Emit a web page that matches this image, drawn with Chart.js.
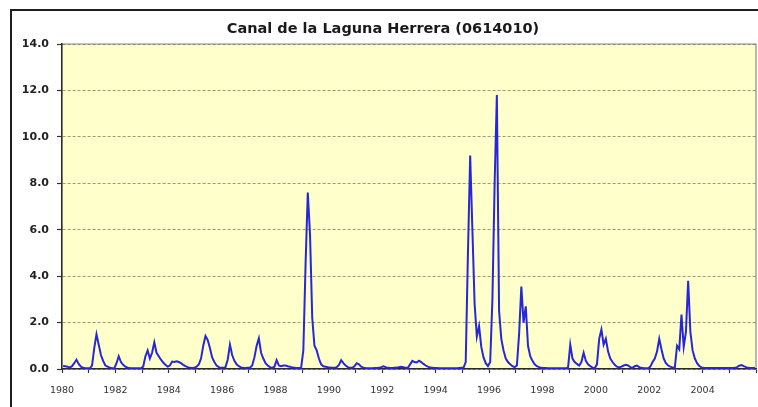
<!DOCTYPE html>
<html>
<head>
<meta charset="utf-8">
<script src="https://cdn.jsdelivr.net/npm/chart.js@4.4.1/dist/chart.umd.min.js"></script>
<style>
  html, body { margin: 0; padding: 0; background: #ffffff; }
  #wrap { width: 758px; height: 407px; position: relative; }
</style>
</head>
<body>
<div id="wrap"><canvas id="c" width="758" height="407"></canvas></div>
<script>
// Station hydrograph: monthly mean flow, Jan 1980 – Dec 2005
const chartTitle = 'Canal de la Laguna Herrera (0614010)';
const firstYear = 1980;
const lastYear = 2006;
const labelYears = [1980, 1982, 1984, 1986, 1988, 1990, 1992, 1994, 1996, 1998, 2000, 2002, 2004];
const yMax = 14;
const yStep = 2;

// one row per year, January … December
const flow = [
  /* 1980 */ 0.13, 0.12, 0.10, 0.06, 0.12, 0.25, 0.40, 0.22, 0.10, 0.05, 0.03, 0.03,
  /* 1981 */ 0.03, 0.15, 0.90, 1.50, 1.05, 0.60, 0.35, 0.15, 0.10, 0.05, 0.03, 0.03,
  /* 1982 */ 0.25, 0.55, 0.30, 0.18, 0.10, 0.06, 0.04, 0.03, 0.03, 0.03, 0.03, 0.03,
  /* 1983 */ 0.10, 0.55, 0.80, 0.45, 0.70, 1.15, 0.70, 0.55, 0.40, 0.28, 0.18, 0.10,
  /* 1984 */ 0.15, 0.32, 0.30, 0.33, 0.30, 0.25, 0.18, 0.12, 0.08, 0.05, 0.04, 0.05,
  /* 1985 */ 0.10, 0.20, 0.45, 1.00, 1.42, 1.25, 0.90, 0.50, 0.30, 0.15, 0.08, 0.05,
  /* 1986 */ 0.05, 0.08, 0.40, 1.05, 0.60, 0.35, 0.20, 0.12, 0.07, 0.05, 0.04, 0.05,
  /* 1987 */ 0.05, 0.15, 0.50, 1.00, 1.32, 0.70, 0.45, 0.25, 0.15, 0.08, 0.05, 0.10,
  /* 1988 */ 0.38, 0.15, 0.12, 0.15, 0.15, 0.12, 0.10, 0.06, 0.05, 0.04, 0.04, 0.05,
  /* 1989 */ 0.80, 4.50, 7.60, 5.80, 2.20, 1.00, 0.80, 0.45, 0.20, 0.12, 0.10, 0.08,
  /* 1990 */ 0.06, 0.05, 0.05, 0.08, 0.18, 0.38, 0.25, 0.15, 0.08, 0.05, 0.05, 0.12,
  /* 1991 */ 0.25, 0.20, 0.10, 0.06, 0.04, 0.03, 0.03, 0.03, 0.04, 0.04, 0.05, 0.08,
  /* 1992 */ 0.12, 0.08, 0.05, 0.04, 0.04, 0.05, 0.06, 0.08, 0.10, 0.08, 0.05, 0.05,
  /* 1993 */ 0.20, 0.35, 0.30, 0.28, 0.36, 0.30, 0.22, 0.15, 0.10, 0.06, 0.05, 0.04,
  /* 1994 */ 0.04, 0.03, 0.03, 0.03, 0.03, 0.03, 0.03, 0.03, 0.03, 0.03, 0.04, 0.05,
  /* 1995 */ 0.05, 0.30, 5.00, 9.20, 6.00, 2.80, 1.40, 1.85, 0.95, 0.50, 0.25, 0.12,
  /* 1996 */ 0.30, 3.00, 8.00, 11.80, 2.50, 1.30, 0.80, 0.45, 0.30, 0.20, 0.12, 0.08,
  /* 1997 */ 0.15, 1.50, 3.55, 2.00, 2.70, 1.00, 0.55, 0.35, 0.20, 0.12, 0.08, 0.05,
  /* 1998 */ 0.04, 0.04, 0.03, 0.03, 0.03, 0.03, 0.03, 0.03, 0.03, 0.03, 0.03, 0.05,
  /* 1999 */ 1.05, 0.45, 0.30, 0.22, 0.15, 0.30, 0.70, 0.35, 0.20, 0.12, 0.06, 0.03,
  /* 2000 */ 0.20, 1.30, 1.70, 1.05, 1.30, 0.75, 0.45, 0.30, 0.18, 0.10, 0.07, 0.10,
  /* 2001 */ 0.15, 0.18, 0.15, 0.08, 0.05, 0.12, 0.15, 0.08, 0.05, 0.03, 0.03, 0.03,
  /* 2002 */ 0.10, 0.30, 0.45, 0.75, 1.30, 0.85, 0.45, 0.25, 0.15, 0.10, 0.06, 0.05,
  /* 2003 */ 1.00, 0.85, 2.35, 0.95, 1.60, 3.80, 1.60, 0.80, 0.45, 0.25, 0.13, 0.07,
  /* 2004 */ 0.05, 0.04, 0.04, 0.04, 0.04, 0.04, 0.04, 0.04, 0.04, 0.04, 0.04, 0.04,
  /* 2005 */ 0.04, 0.04, 0.05, 0.08, 0.14, 0.17, 0.12, 0.08, 0.05, 0.04, 0.04, 0.05
];

// each month plotted at its mid-point on a continuous year axis
const points = flow.map((v, i) => ({ x: firstYear + (i + 0.5) / 12, y: v }));

const framePlugin = {
  id: 'frame',
  beforeDraw(chart) {
    const { ctx, chartArea: a } = chart;
    ctx.save();
    ctx.fillStyle = '#ffffff';
    ctx.fillRect(0, 0, chart.width, chart.height);
    ctx.fillStyle = '#ffffcc';
    ctx.fillRect(a.left, a.top, a.right - a.left, a.bottom - a.top);
    ctx.strokeStyle = '#8c8c84';
    ctx.lineWidth = 1.2;
    ctx.beginPath();
    ctx.moveTo(a.left, a.top);
    ctx.lineTo(a.right, a.top);
    ctx.lineTo(a.right, a.bottom);
    ctx.stroke();
    ctx.restore();
  },
  afterDraw(chart) {
    const { ctx } = chart;
    ctx.save();
    // outer chart frame
    ctx.strokeStyle = '#1e1e1e';
    ctx.lineWidth = 2;
    ctx.beginPath();
    ctx.moveTo(11, chart.height);
    ctx.lineTo(11, 10);
    ctx.lineTo(chart.width, 10);
    ctx.stroke();
    // title
    ctx.fillStyle = '#1a1a1a';
    ctx.font = 'bold 14.5px "DejaVu Sans"';
    ctx.textAlign = 'center';
    ctx.textBaseline = 'alphabetic';
    ctx.fillText(chartTitle, 383, 33);
    ctx.restore();
  }
};

new Chart(document.getElementById('c'), {
  type: 'line',
  data: {
    datasets: [{
      data: points,
      borderColor: '#2626dc',
      borderWidth: 2,
      pointRadius: 0,
      tension: 0,
      fill: false
    }]
  },
  options: {
    responsive: false,
    devicePixelRatio: 1,
    animation: false,
    layout: { padding: { top: 44, right: 2, bottom: 0, left: 0 } },
    plugins: {
      legend: { display: false },
      title: { display: false },
      tooltip: { enabled: false }
    },
    scales: {
      x: {
        type: 'linear',
        min: firstYear,
        max: lastYear,
        afterFit(s) { s.height = 38; s.paddingLeft = 0; s.paddingRight = 0; },
        grid: { drawOnChartArea: false, drawTicks: true, tickLength: 4, tickColor: '#333333', tickWidth: 1.2 },
        border: { color: '#2a2a2a', width: 1.6 },
        ticks: {
          stepSize: 1,
          autoSkip: false,
          maxRotation: 0,
          padding: 12,
          color: '#333333',
          font: { family: 'DejaVu Sans', size: 9.5 },
          callback: v => labelYears.includes(v) ? String(v) : ''
        }
      },
      y: {
        min: 0,
        max: yMax,
        afterFit(s) { s.width = 62; s.paddingTop = 0; s.paddingBottom = 0; },
        grid: { color: 'rgba(120,120,95,0.75)', lineWidth: 1, drawTicks: true, tickLength: 5, tickColor: '#333333', tickWidth: 1.2 },
        border: { color: '#2a2a2a', width: 1.6, dash: [3, 2] },
        ticks: {
          stepSize: yStep,
          padding: 8,
          color: '#222222',
          font: { family: 'DejaVu Sans', size: 11, weight: 'bold' },
          callback: v => v.toFixed(1)
        }
      }
    }
  },
  plugins: [framePlugin]
});
</script>
</body>
</html>
